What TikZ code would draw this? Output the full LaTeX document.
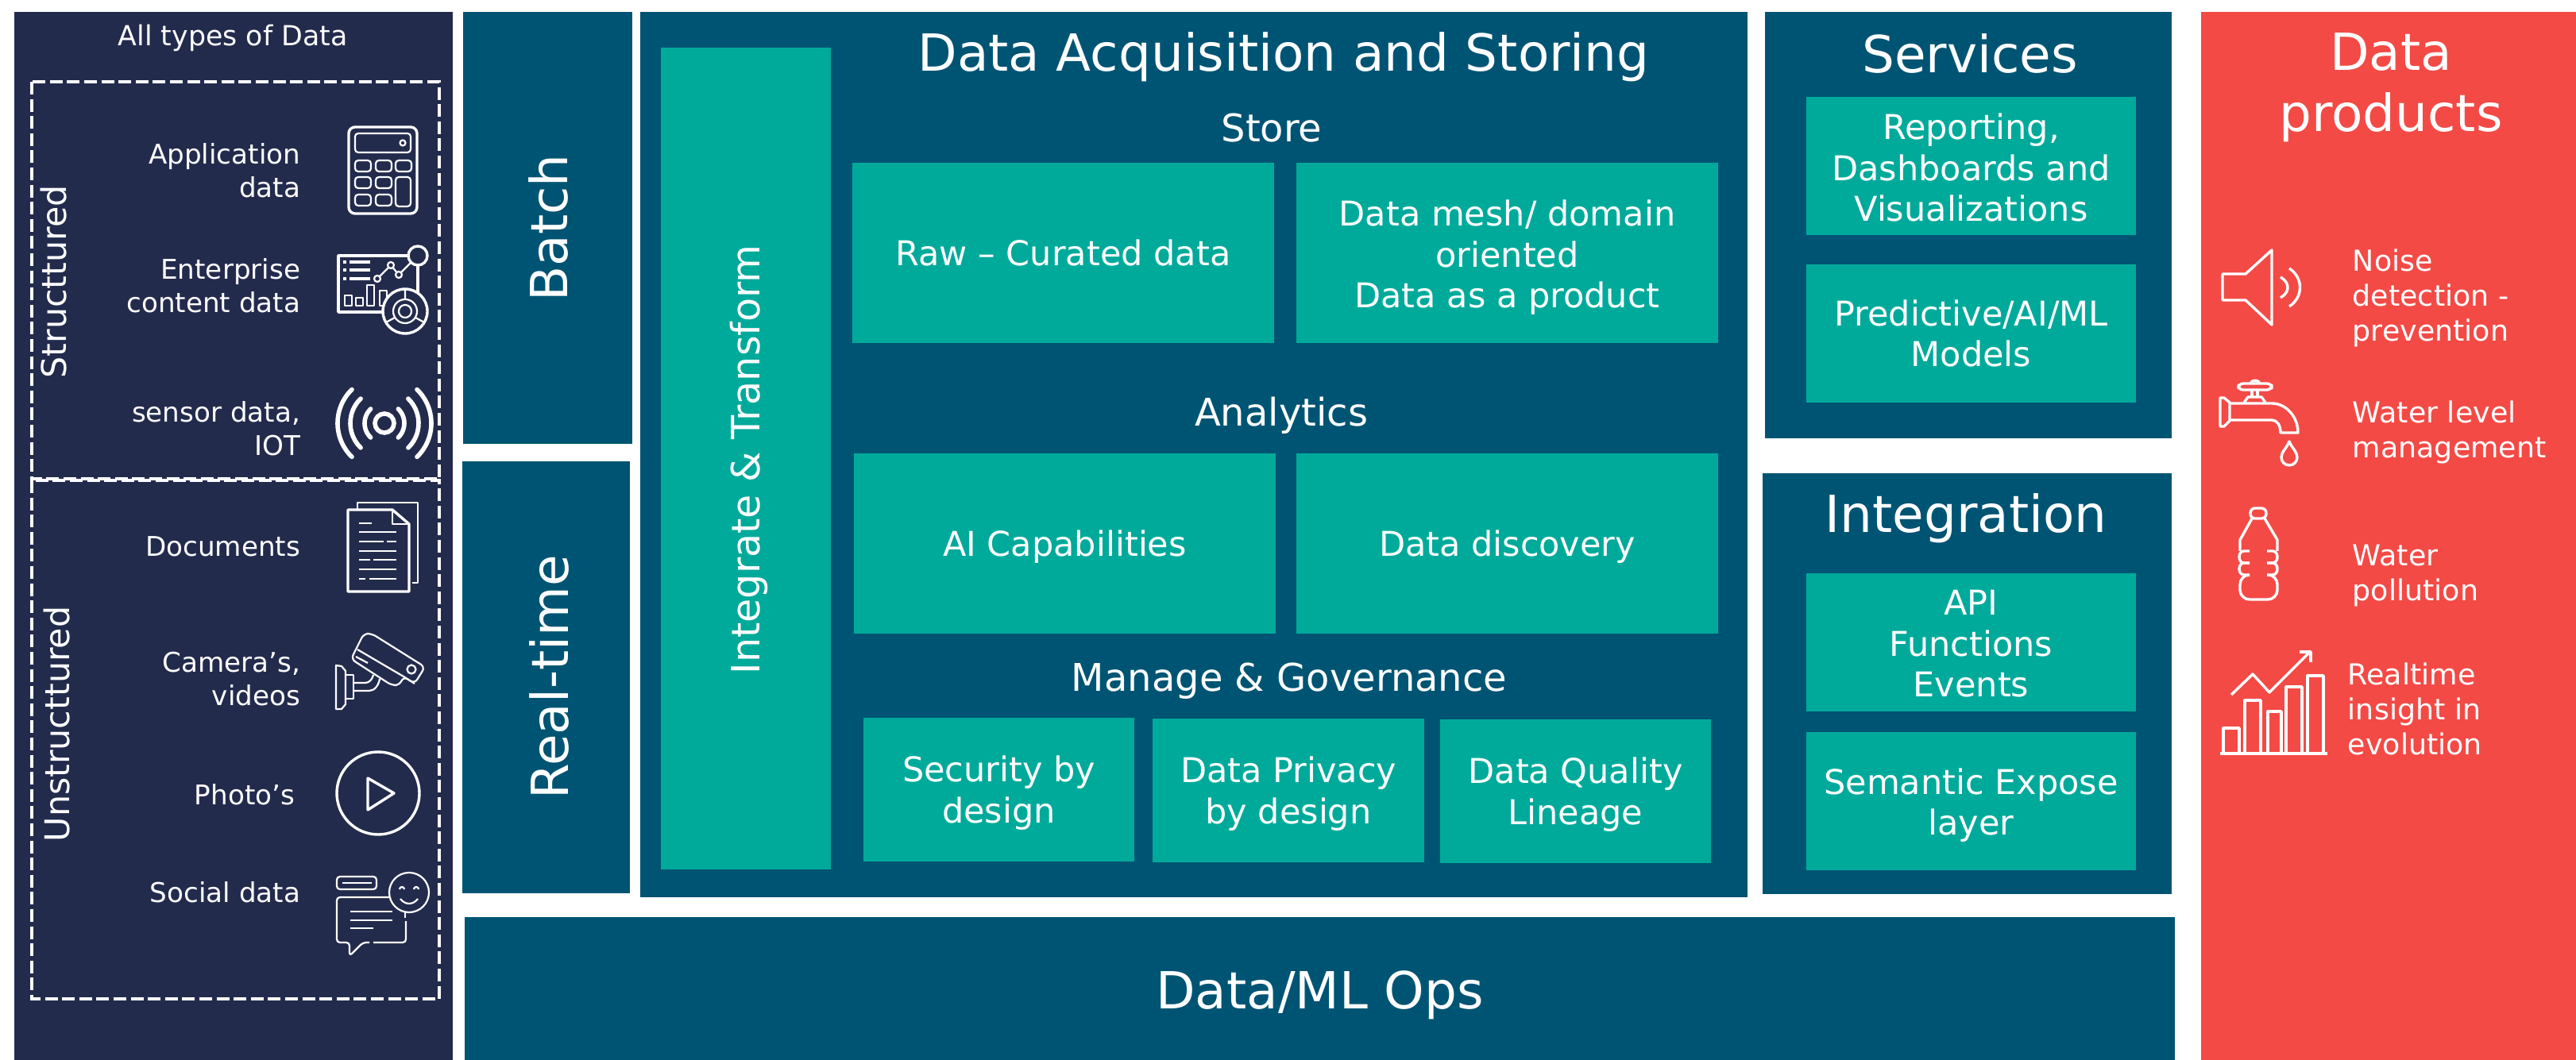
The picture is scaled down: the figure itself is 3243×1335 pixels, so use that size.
\documentclass[tikz,border=0pt]{standalone}
\usepackage{fontspec}
\usepackage{xcolor}
\setmainfont{DejaVu Sans}
\usetikzlibrary{calc,positioning}
\definecolor{navypanel}{HTML}{232B4D}
\definecolor{deepteal}{HTML}{005473}
\definecolor{brightteal}{HTML}{00AA9B}
\definecolor{redpanel}{HTML}{F34A46}
\newcommand{\fontpt}[2]{\fontsize{#1pt}{#2pt}\selectfont}
\tikzset{sized/.code 2 args={\pgfkeysalso{minimum width=#1*0.25pt, minimum height=#2*0.25pt}}}

\begin{document}
\begin{tikzpicture}[
    x=0.25pt,
    y=-0.25pt,
    panel/.style={rectangle, anchor=north west, inner sep=0, outer sep=0},
    deepbox/.style={panel, fill=deepteal},
    tealbox/.style={panel, fill=brightteal},
    boxtext/.style={text=white, inner sep=0, align=center, font=\fontpt{10.75}{12.9}},
    headline/.style={text=white, inner sep=0, align=center, font=\fontpt{16.1}{19.2}},
    subhead/.style={text=white, inner sep=0, font=\fontpt{12}{14}},
    srclabel/.style={text=white, inner sep=0, anchor=east, align=right, font=\fontpt{8.55}{10.5}},
    typelabel/.style={text=white, inner sep=0, rotate=90, font=\fontpt{10.7}{12}},
    prodlabel/.style={text=white, inner sep=0, anchor=west, align=left, font=\fontpt{9.1}{11}},
    dashbox/.style={draw=white, line width=1.2pt, dash pattern=on 4pt off 1.4pt},
    icon/.style={draw=white, line width=0.85pt, line join=round},
    thinicon/.style={draw=white, line width=0.55pt, line join=round},
]
\path[use as bounding box] (0,0) rectangle (3243,1335);

\node (sources) [panel, fill=navypanel, sized={552}{1320}] at (18,15) {};
\node (batch) [deepbox, sized={213}{544}] at (583,15) {};
\node (realtime) [deepbox, sized={211}{544}] at (582,581) {};
\node (acquire) [deepbox, sized={1394}{1115}] at (806,15) {};
\node (transform) [tealbox, sized={214}{1035}] at (832,60) {};
\node (services) [deepbox, sized={512}{537}] at (2222,15) {};
\node (integration) [deepbox, sized={515}{530}] at (2219,596) {};
\node (mlops) [deepbox, sized={2153}{180}] at (585,1155) {};
\node (products) [panel, fill=redpanel, sized={472}{1320}] at (2771,15) {};

\node (alltypes) [text=white, inner sep=0, font=\fontpt{8.7}{10}] at (293,48) {All types of Data};
\node (batchlabel) [headline, rotate=90] at (690,287) {Batch};
\node (realtimelabel) [headline, rotate=90] at (691,853) {Real-time};
\node (transformlabel) [text=white, inner sep=0, rotate=90, font=\fontpt{12.3}{14}] at (943,579) {Integrate \& Transform};
\node (acquirelabel) [headline] at (1616,72) {Data Acquisition and Storing};
\node (servicelabel) [headline] at (2480,68) {Services};
\node (integrationlabel) [headline] at (2475,653) {Integration};
\node (productlabel) [headline] at (3010,110) {Data\\products};
\node (opslabel) [headline] at ($(mlops.center)+(0,8)$) {Data/ML Ops};
\node (store) [subhead] at (1601,161) {Store};
\node (analytics) [subhead] at (1613,523) {Analytics};
\node (manage) [subhead] at (1623,858) {Manage \& Governance};

\node (curated) [tealbox, sized={531}{227}] at (1073,205) {};
\node (mesh) [tealbox, sized={531}{227}] at (1632,205) {};
\node (capabilities) [tealbox, sized={531}{227}] at (1075,571) {};
\node (discovery) [tealbox, sized={531}{227}] at (1632,571) {};
\node (security) [tealbox, sized={341}{181}] at (1087,904) {};
\node (privacy) [tealbox, sized={342}{181}] at (1451,905) {};
\node (quality) [tealbox, sized={341}{181}] at (1813,906) {};
\node (reporting) [tealbox, sized={415}{174}] at (2274,122) {};
\node (predictive) [tealbox, sized={415}{174}] at (2274,333) {};
\node (functions) [tealbox, sized={415}{174}] at (2274,722) {};
\node (semantic) [tealbox, sized={415}{174}] at (2274,922) {};

\node (curatedtext) [boxtext] at (curated.center) {Raw -- Curated data};
\node (meshtext) [boxtext] at ($(mesh.center)+(0,6)$) {Data mesh/ domain\\oriented\\Data as a product};
\node (capabilitiestext) [boxtext] at ($(capabilities.center)+(0,4)$) {AI Capabilities};
\node (discoverytext) [boxtext] at ($(discovery.center)+(0,4)$) {Data discovery};
\node (securitytext) [boxtext] at ($(security.center)+(0,4)$) {Security by\\design};
\node (privacytext) [boxtext] at ($(privacy.center)+(0,4)$) {Data Privacy\\by design};
\node (qualitytext) [boxtext] at ($(quality.center)+(0,4)$) {Data Quality\\Lineage};
\node (reportingtext) [boxtext] at ($(reporting.center)+(0,2)$) {Reporting,\\Dashboards and\\Visualizations};
\node (predictivetext) [boxtext] at (predictive.center) {Predictive/AI/ML\\Models};
\node (functionstext) [boxtext] at ($(functions.center)+(0,2)$) {API\\Functions\\Events};
\node (semantictext) [boxtext] at ($(semantic.center)+(0,5)$) {Semantic Expose\\layer};

\draw[dashbox] (40,103) rectangle (553,603);
\draw[dashbox] (40,605) rectangle (553,1258);
\node (structured) [typelabel] at (68,355) {Structtured};
\node (unstructured) [typelabel] at (72,912) {Unstructtured};

\node (appdata) [srclabel] at (379,215) {Application\\data};
\node (content) [srclabel] at (379,360) {Enterprise\\content data};
\node (sensor) [srclabel] at (379,540) {sensor data,\\IOT};
\node (documents) [srclabel] at (379,688) {Documents};
\node (cameras) [srclabel] at (379,855) {Camera’s,\\videos};
\node (photos) [srclabel] at (372,1001) {Photo’s};
\node (social) [srclabel] at (379,1124) {Social data};

\node (noise) [prodlabel] at (2961,375) {Noise\\detection -\\prevention};
\node (level) [prodlabel] at (2961,544) {Water level\\management};
\node (pollution) [prodlabel] at (2961,725) {Water\\pollution};
\node (insight) [prodlabel] at (2955,893) {Realtime\\insight in\\evolution};

% calculator
\draw[icon, rounded corners=2pt] (439,160) rectangle (525,269);
\draw[thinicon, rounded corners=1pt] (447,168) rectangle (517,192);
\draw[thinicon] (507,180) circle[radius=3.5];
\foreach \kx/\ky in {447/202,473/202,498/202,447/223,473/223,447/245,473/245}
    \draw[thinicon, rounded corners=1pt] (\kx,\ky) rectangle +(20,14);
\draw[thinicon, rounded corners=1pt] (498,223) rectangle (517,260);

% dashboard
\draw[icon] (526,322) -- (426,322) -- (426,393) -- (510,393);
\draw[icon] (526,322) -- (526,392);
\foreach \ly in {330,340,351}
    \draw[icon] (440,\ly) -- (466,\ly);
\foreach \ly in {330,340,351}
    \fill[white] (432,\ly-2) rectangle +(4,4);
\draw[thinicon] (475,351) -- (492,334) -- (502,346) -- (526,322);
\foreach \px/\py in {475/351,492/334,502/346}
    \draw[thinicon, fill=navypanel] (\px,\py) circle[radius=4];
\foreach \bx/\by in {434/372,448/375,462/359,478/366}
    \draw[thinicon] (\bx,\by) rectangle (\bx+9,385);
\draw[icon, fill=navypanel] (526,322) circle[radius=12];
\draw[icon, fill=navypanel] (510,392) circle[radius=28];
\draw[thinicon] (510,392) circle[radius=15];
\draw[thinicon] (510,392) circle[radius=8];
\draw[thinicon] (510,364) -- (510,377) (486,406) -- (497,400) (534,406) -- (523,400);

% sensor
\draw[draw=white, line width=1.4pt] (484,533) circle[radius=12];
\foreach \r in {25,43,59} {
    \draw[draw=white, line width=1.4pt, line cap=round] (484,533) ++(-46:\r) arc[start angle=-46, end angle=46, radius=\r];
    \draw[draw=white, line width=1.4pt, line cap=round] (484,533) ++(134:\r) arc[start angle=134, end angle=226, radius=\r];
}

% documents
\draw[thinicon] (450,642) -- (450,633) -- (526,633) -- (526,734) -- (519,734);
\draw[icon] (494,642) -- (438,642) -- (438,745) -- (515,745) -- (515,660) -- cycle;
\draw[thinicon] (494,642) -- (494,660) -- (515,660);
\foreach \lx/\ly/\lw in {452/659/16,452/670/47,452/682/31,487/682/12,452/694/47,452/705/14,470/705/29,452/717/47,452/729/8,465/729/34}
    \draw[thinicon] (\lx,\ly) -- +(\lw,0);

% camera
\draw[thinicon] (423,838) -- (430,839) -- (435,845) -- (435,887) -- (430,893) -- (423,893) -- cycle;
\draw[thinicon] (435,850) -- (445,850) -- (445,880) -- (435,880);
\draw[thinicon] (445,860) -- (460,860) .. controls (465,860) and (469,855) .. (470,850);
\draw[thinicon] (445,870) -- (465,870) .. controls (472,870) and (477,862) .. (478,855);
\draw[thinicon, rounded corners=1.5pt] (442,830) -- (458,798) -- (468,798) -- (535,840) -- (522,861) -- (508,852) -- (503,863) -- (493,863) -- cycle;
\draw[thinicon] (450,818) -- (508,852) (508,852) -- (522,861);
\draw[thinicon] (448,827) -- (463,835);
\draw[thinicon] (518,843) circle[radius=5.5];

% play
\draw[icon] (476,999) circle[radius=52];
\draw[icon] (463,980) -- (496,999) -- (463,1020) -- cycle;

% social
\draw[thinicon, rounded corners=1pt] (424,1104) rectangle (474,1120);
\draw[thinicon] (431,1112) -- (468,1112);
\draw[thinicon] (515,1124) circle[radius=25];
\draw[thinicon] (503,1120) arc[start angle=180, end angle=360, radius=3];
\draw[thinicon] (521,1120) arc[start angle=180, end angle=360, radius=3];
\draw[thinicon] (504,1132) .. controls (510,1140) and (520,1140) .. (526,1132);
\draw[thinicon, rounded corners=1pt] (490,1130) -- (424,1130) -- (424,1187) -- (440,1187) -- (440,1204) -- (457,1187) -- (465,1187);
\draw[thinicon, rounded corners=1pt] (470,1187) -- (511,1187) -- (511,1160);
\draw[thinicon] (510,1149) -- (510,1156);
\foreach \ly/\lw in {1148/53,1159/53,1169/29}
    \draw[thinicon] (441,\ly) -- +(\lw,0);

% speaker
\draw[icon] (2798,345) -- (2827,345) -- (2860,315) -- (2860,409) -- (2827,378) -- (2798,378) -- cycle;
\draw[icon] (2871,349) .. controls (2883,356) and (2883,368) .. (2871,375);
\draw[icon] (2882,338) .. controls (2900,350) and (2900,374) .. (2882,386);

% tap
\draw[icon, rounded corners=1.5pt] (2818,483) rectangle (2860,491);
\draw[icon] (2833,483) .. controls (2834,478) and (2844,478) .. (2845,483);
\draw[icon] (2835,491) -- (2835,500) (2842,491) -- (2842,500);
\draw[icon] (2825,507) -- (2830,500) -- (2847,500) -- (2852,507);
\draw[icon] (2795,501) -- (2800,501) -- (2807,507) -- (2807,530) -- (2800,537) -- (2795,537) -- cycle;
\draw[icon] (2807,508) -- (2860,508) .. controls (2878,508) and (2893,525) .. (2893,545) -- (2871,545) .. controls (2871,536) and (2867,529) .. (2860,529) -- (2807,529);
\draw[icon] (2882,556) .. controls (2879,564) and (2872,569) .. (2872,576) arc[start angle=180, end angle=0, radius=10] .. controls (2892,569) and (2885,564) .. (2882,556) -- cycle;

% bottle
\draw[icon, rounded corners=1.5pt] (2833,640) rectangle (2853,653);
\draw[icon] (2835,653) -- (2820,680) -- (2820,694);
\draw[icon] (2851,653) -- (2867,680) -- (2867,694);
\foreach \ya/\yb in {694/709,709/724} {
    \draw[icon] (2832,\ya) -- (2825,\ya) .. controls (2817,\ya) and (2817,\yb) .. (2825,\yb) -- (2832,\yb);
    \draw[icon] (2854,\ya) -- (2861,\ya) .. controls (2869,\ya) and (2869,\yb) .. (2861,\yb) -- (2854,\yb);
}
\draw[icon, rounded corners=3pt] (2832,724) -- (2820,724) -- (2820,755) -- (2867,755) -- (2867,724) -- (2854,724);

% chart
\draw[icon] (2795,949) -- (2930,949);
\foreach \bxa/\bxb/\by in {2799/2819/917,2826/2846/882,2855/2872/896,2878/2898/865,2905/2925/851}
    \draw[icon] (\bxa,949) -- (\bxa,\by) -- (\bxb,\by) -- (\bxb,949);
\draw[icon] (2809,875) -- (2836,849) -- (2857,872) -- (2907,822);
\draw[icon] (2895,821) -- (2909,821) -- (2909,834);
\end{tikzpicture}
\end{document}
